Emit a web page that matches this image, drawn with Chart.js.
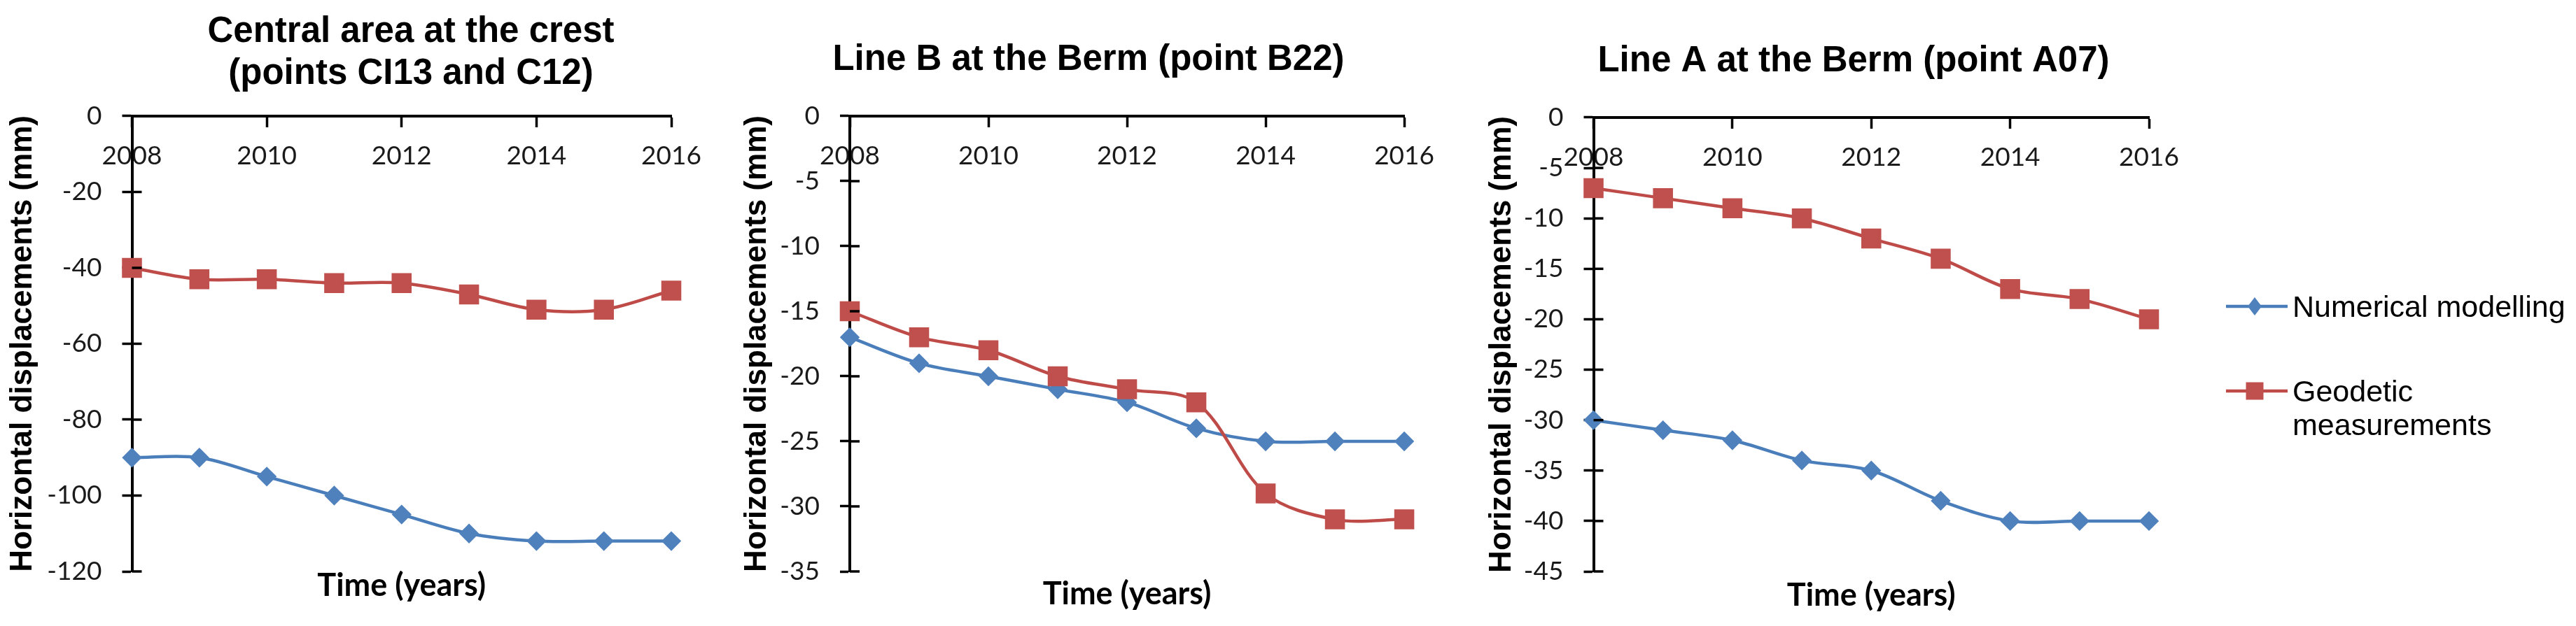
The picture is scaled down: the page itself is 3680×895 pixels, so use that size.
<!DOCTYPE html>
<html>
<head>
<meta charset="utf-8">
<script src="https://cdn.jsdelivr.net/npm/chart.js@4.4.1/dist/chart.umd.min.js"></script>
<style>
  body { margin: 0; background: #fff; width: 3680px; height: 895px; overflow: hidden; position: relative; }
  canvas { position: absolute; top: 0; }
  .lg { position: absolute; font-family: "Liberation Sans", Arial, sans-serif; font-size: 43px; line-height: 48px; color: #000; white-space: nowrap; }
  .sym { position: absolute; }
</style>
</head>
<body>
<canvas id="c1" width="1174" height="895" style="left:0px"></canvas>
<canvas id="c2" width="1030" height="895" style="left:1040px"></canvas>
<canvas id="c3" width="1096" height="895" style="left:2100px"></canvas>
<div id="legend"></div>

<script>
// data (mm)
const years = [2008, 2009, 2010, 2011, 2012, 2013, 2014, 2015, 2016];
const xTicks = [2008, 2010, 2012, 2014, 2016];

const numCrest = [-90, -90, -95, -100, -105, -110, -112, -112, -112];
const geoCrest = [-40, -43, -43, -44, -44, -47, -51, -51, -46];

const numB22 = [-17, -19, -20, -21, -22, -24, -25, -25, -25];
const geoB22 = [-15, -17, -18, -20, -21, -22, -29, -31, -31];

const numA07 = [-30, -31, -32, -34, -35, -38, -40, -40, -40];
const geoA07 = [-7, -8, -9, -10, -12, -14, -17, -18, -20];

const seriesNames = ['Numerical modelling', 'Geodetic measurements'];
const blue = '#4A7EBB', blueMk = '#4F81BD';
const red = '#BE4B48', redMk = '#C0504D';

const tickFont = { family: 'Lato', size: 37 };
const textCol = '#1a1a1a';

// y ticks cross the axis in the original, chart.js only draws the outer half
const crossTicks = {
  id: 'crossTicks',
  afterDraw(chart) {
    const ys = chart.scales.y, ctx = chart.ctx, left = chart.chartArea.left;
    ctx.save();
    ctx.strokeStyle = '#000';
    ctx.lineWidth = 3.5;
    ys.ticks.forEach((t, i) => {
      const py = ys.getPixelForTick(i);
      ctx.beginPath();
      ctx.moveTo(left, py);
      ctx.lineTo(left + 14, py);
      ctx.stroke();
    });
    ctx.restore();
  }
};

function pts(vals) {
  return vals.map((v, i) => ({ x: years[i], y: v }));
}

function makePanel(id, p) {
  new Chart(document.getElementById(id), {
    type: 'line',
    data: {
      datasets: [
        {
          label: seriesNames[0], data: pts(p.num), order: 1,
          borderColor: blue, backgroundColor: blueMk, borderWidth: 4.5,
          pointStyle: 'rectRot', pointRadius: 11, pointBackgroundColor: blueMk, pointBorderColor: blueMk,
          tension: 0.33, clip: false, xAxisID: 'x', yAxisID: 'y'
        },
        {
          label: seriesNames[1], data: pts(p.geo), order: 0,
          borderColor: red, backgroundColor: redMk, borderWidth: 4.5,
          pointStyle: 'rect', pointRadius: 17, pointBackgroundColor: redMk, pointBorderColor: redMk,
          tension: 0.33, clip: false, xAxisID: 'x', yAxisID: 'y'
        }
      ]
    },
    options: {
      responsive: false,
      devicePixelRatio: 1,
      animation: false,
      layout: { padding: 0 },
      plugins: {
        legend: { display: false },
        tooltip: { enabled: false },
        title: {
          display: true,
          text: p.title,
          color: '#000',
          font: { family: '"Liberation Sans", Arial, sans-serif', weight: 'bold', size: 51, lineHeight: 1.176 },
          padding: { top: p.titleTop, bottom: p.titleBottom }
        }
      },
      scales: {
        x: {
          type: 'linear', position: { y: 0 }, min: 2008, max: 2016,
          afterBuildTicks(s) { s.ticks = xTicks.map(v => ({ value: v })); },
          ticks: { color: textCol, font: tickFont, padding: 21, maxRotation: 0, callback: v => String(v) },
          grid: { drawOnChartArea: false, tickLength: 14, tickWidth: 3.5, tickColor: '#000' },
          border: { display: true, color: '#000', width: 4 }
        },
        y: {
          type: 'linear', position: 'left', min: p.yMin, max: 0,
          ticks: { stepSize: p.yStep, color: textCol, font: tickFont, padding: 29 },
          grid: { drawOnChartArea: false, tickLength: 14, tickWidth: 3.5, tickColor: '#000' },
          border: { display: true, color: '#000', width: 4 },
          title: {
            display: true, text: 'Horizontal displacements (mm)', color: '#000',
            font: { family: '"Liberation Sans", Arial, sans-serif', weight: 'bold', size: 44 },
            padding: { top: p.yTitlePad, bottom: 0 }
          },
          afterFit(s) { s.width = p.yWidth; }
        },
        xb: {
          type: 'linear', position: 'bottom', display: true,
          ticks: { display: false }, grid: { display: false }, border: { display: false },
          title: {
            display: true, text: 'Time (years)', color: '#000',
            font: { family: 'Lato', weight: 'bold', size: 45 },
            padding: { top: 0, bottom: p.timePad }
          },
          afterFit(s) { s.height = 78; }
        },
        y2: {
          type: 'linear', position: 'right', display: true,
          ticks: { display: false }, grid: { display: false }, border: { display: false },
          afterFit(s) { s.width = p.rightGap; }
        }
      }
    },
    plugins: [crossTicks]
  });
}

makePanel('c1', {
  title: ['Central area at the crest', '(points CI13 and C12)'],
  titleTop: 16, titleBottom: 30,
  num: numCrest, geo: geoCrest, yMin: -120, yStep: 20,
  yWidth: 188.5, rightGap: 215, yTitlePad: 6, timePad: 31
});
makePanel('c2', {
  title: 'Line B at the Berm (point B22)',
  titleTop: 56, titleBottom: 50,
  num: numB22, geo: geoB22, yMin: -35, yStep: 5,
  yWidth: 174, rightGap: 63, yTitlePad: 15, timePad: 19
});
makePanel('c3', {
  title: 'Line A at the Berm (point A07)',
  titleTop: 58, titleBottom: 50,
  num: numA07, geo: geoA07, yMin: -45, yStep: 5,
  yWidth: 176.5, rightGap: 126, yTitlePad: 19, timePad: 17
});

// legend, Excel style: line with marker
const lg = document.getElementById('legend');
function legendRow(cy, text, col, mk, shape) {
  const svg = document.createElementNS('http://www.w3.org/2000/svg', 'svg');
  svg.setAttribute('width', 90);
  svg.setAttribute('height', 30);
  svg.setAttribute('class', 'sym');
  svg.style.left = '3179px';
  svg.style.top = (cy - 15) + 'px';
  let mark;
  if (shape === 'diamond') {
    mark = '<polygon points="42,2 52,15 42,28 32,15" fill="' + mk + '"/>';
  } else {
    mark = '<rect x="29.5" y="2.5" width="25" height="25" fill="' + mk + '"/>';
  }
  svg.innerHTML = '<line x1="1" y1="15" x2="89" y2="15" stroke="' + col + '" stroke-width="4.5"/>' + mark;
  lg.appendChild(svg);
  const d = document.createElement('div');
  d.className = 'lg';
  d.style.left = '3275px';
  d.style.top = (cy - 24) + 'px';
  d.innerHTML = text;
  lg.appendChild(d);
}
legendRow(438, seriesNames[0], blue, blueMk, 'diamond');
legendRow(559, 'Geodetic<br>measurements', red, redMk, 'square');
</script>
</body>
</html>
